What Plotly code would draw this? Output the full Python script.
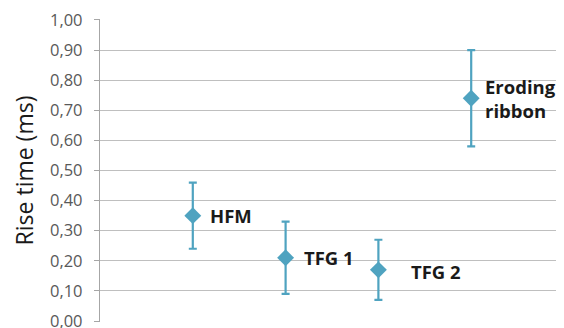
import plotly.graph_objects as go

categories = ["HFM", "TFG 1", "TFG 2", "Eroding<br>ribbon"]
x_pos = [1, 2, 3, 4]
rise_time = [0.35, 0.21, 0.17, 0.74]
err = [0.11, 0.12, 0.10, 0.16]
y_ticks = [0, 0.1, 0.2, 0.3, 0.4, 0.5, 0.6, 0.7, 0.8, 0.9, 1.0]

label_xshift = [15, 16, 31, 12]
label_yshift = [0, 0, -2, 0]

color = "#4fa3c0"

fig = go.Figure()
fig.add_trace(go.Scatter(
    x=x_pos, y=rise_time, mode="markers",
    marker=dict(symbol="diamond", size=13, color=color),
    error_y=dict(type="data", array=err, visible=True, color=color, thickness=2.2, width=4),
    showlegend=False, cliponaxis=False,
))

for xi, yi, lab, dx, dy in zip(x_pos, rise_time, categories, label_xshift, label_yshift):
    fig.add_annotation(x=xi, y=yi, text="<b>" + lab + "</b>", showarrow=False,
                       xanchor="left", yanchor="middle", xshift=dx, yshift=dy,
                       align="left",
                       font=dict(family="Open Sans", size=18.5, color="#1a1a1a"))

# page body has an 8px margin, so the figure is offset by 8px
fig.update_layout(
    width=556, height=320,
    margin=dict(l=92, r=0, t=11, b=6),
    paper_bgcolor="white", plot_bgcolor="white",
    separators=", ",
    font=dict(family="Open Sans", color="#595959"),
    xaxis=dict(range=[0, 5], showticklabels=False, showgrid=False, zeroline=False,
               showline=False, ticks="", automargin=False),
    yaxis=dict(range=[-0.0033, 1.0033], tickvals=y_ticks, tickformat=".2f", automargin=False,
               showgrid=True, gridcolor="#bfbfbf", gridwidth=1.3,
               zeroline=False, showline=True, linecolor="#a6a6a6", linewidth=1.3,
               ticks="outside", ticklen=5, tickcolor="#a6a6a6", ticklabelstandoff=8,
               ticklabeloverflow="allow",
               tickfont=dict(size=16.5, color="#595959", family="Open Sans"),
               title=dict(text="Rise time (ms)", standoff=12,
                          font=dict(size=23, color="#1a1a1a", family="Open Sans"))),
)

fig.write_html("out.html")
